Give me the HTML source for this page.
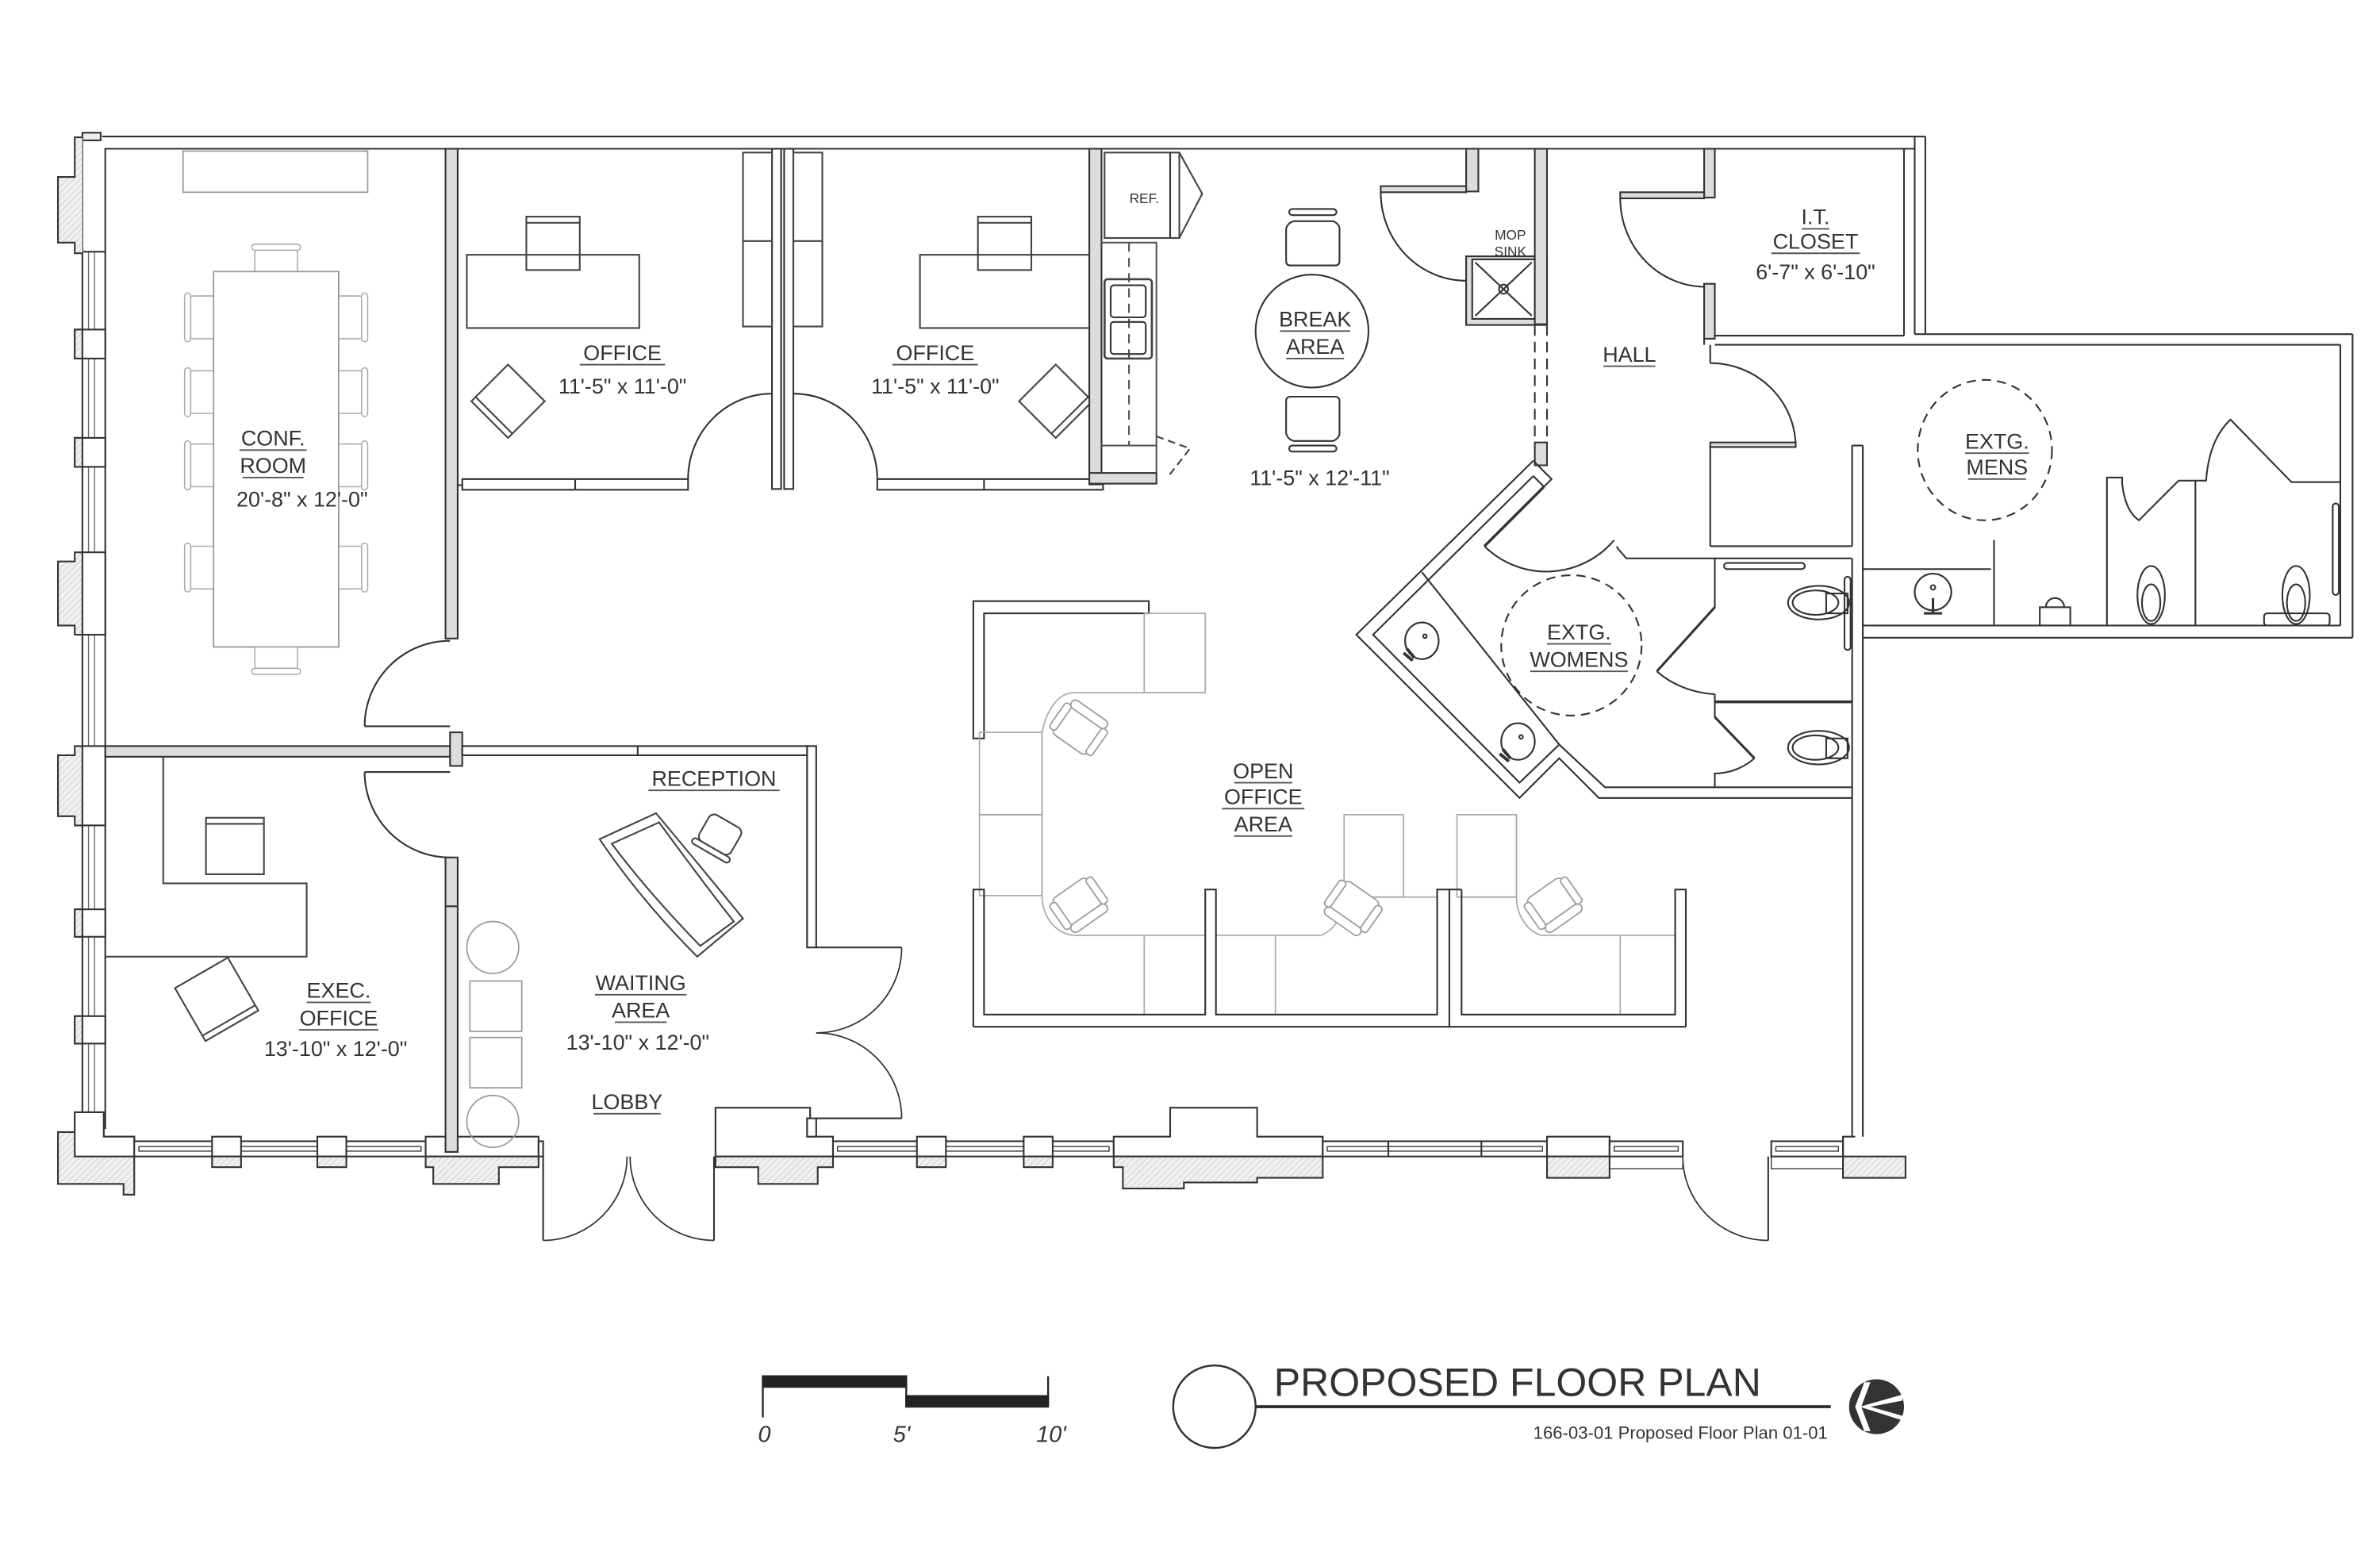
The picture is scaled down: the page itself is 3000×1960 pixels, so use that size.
<!DOCTYPE html>
<html><head><meta charset="utf-8"><style>
html,body{margin:0;padding:0;background:#fff;}
svg{display:block;}
text{font-family:"Liberation Sans",sans-serif;fill:#333;}
</style></head><body>
<svg width="3000" height="1960" viewBox="0 0 1560 1019.2" preserveAspectRatio="none" xmlns="http://www.w3.org/2000/svg">
<defs>
<pattern id="h" width="3" height="3" patternUnits="userSpaceOnUse" patternTransform="rotate(45)"><rect width="3" height="3" fill="#f0f0f0"/><line x1="0" y1="0" x2="0" y2="3" stroke="#c8c8c8" stroke-width="0.8"/></pattern>
<g id="ch" fill="#fff" stroke="#999" stroke-width="0.9">
<rect x="-14" y="-12" width="28" height="24" rx="4"/>
<rect x="-14" y="-15" width="28" height="6" rx="3"/>
<rect x="-17" y="-10" width="5" height="20" rx="2"/>
<rect x="12" y="-10" width="5" height="20" rx="2"/>
</g>
<g id="cc" fill="#fff" stroke="#aaa" stroke-width="0.8">
<rect x="-14" y="-10" width="28" height="20" rx="4"/>
<rect x="-16" y="-12" width="32" height="4" rx="2"/>
</g>
</defs>
<rect width="1560" height="1019.2" fill="#fff"/>

<g fill="none" stroke="#333" stroke-width="1.1">
<line x1="67" y1="89.5" x2="1262" y2="89.5"/>
<line x1="69" y1="97.5" x2="1255" y2="97.5"/>
<rect x="54" y="87" width="12" height="5" fill="#eee"/>
<line x1="54" y1="90" x2="54" y2="740"/>
<line x1="69" y1="97" x2="69" y2="740"/>
<line x1="58" y1="165" x2="58" y2="740" stroke="#666" stroke-width="0.7"/>
<line x1="62" y1="165" x2="62" y2="740" stroke="#666" stroke-width="0.7"/>
<line x1="54" y1="165" x2="69" y2="165"/>
<path d="M54,90 L49,90 L49,116 L38,116 L38,159 L49,159 L49,166 L54,166" fill="url(#h)"/>
<path d="M54,362 L49,362 L49,368 L38,368 L38,410 L49,410 L49,416 L54,416" fill="url(#h)"/>
<rect x="54" y="362" width="15" height="54" fill="#fff"/>
<path d="M54,489 L49,489 L49,495 L38,495 L38,535 L49,535 L49,541 L54,541" fill="url(#h)"/>
<rect x="54" y="489" width="15" height="52" fill="#fff"/>
<rect x="49" y="216" width="20" height="19" fill="#fff"/><rect x="49" y="216" width="5" height="19" fill="url(#h)"/>
<rect x="49" y="287" width="20" height="19" fill="#fff"/><rect x="49" y="287" width="5" height="19" fill="url(#h)"/>
<rect x="49" y="596" width="20" height="18" fill="#fff"/><rect x="49" y="596" width="5" height="18" fill="url(#h)"/>
<rect x="49" y="666" width="20" height="18" fill="#fff"/><rect x="49" y="666" width="5" height="18" fill="url(#h)"/>
<path d="M38,742 L49,742 L49,729 L68,729 L68,745 L88,745 L88,783 L81,783 L81,776 L38,776 Z" fill="url(#h)"/>
<path d="M49,729 L68,729 L68,745 L88,745 L88,758 L49,758 Z" fill="#fff"/>
<rect x="88" y="748" width="191" height="10" fill="#fff"/>
<rect x="91" y="751.5" width="185" height="3" stroke-width="0.7"/>
<rect x="139" y="745" width="19" height="13" fill="#fff"/><rect x="139" y="758" width="19" height="7" fill="url(#h)"/>
<rect x="208" y="745" width="19" height="13" fill="#fff"/><rect x="208" y="758" width="19" height="7" fill="url(#h)"/>
<rect x="279" y="745" width="74" height="13" fill="#fff"/>
<path d="M279,758 L353,758 L353,765 L327,765 L327,776 L284,776 L284,765 L279,765 Z" fill="url(#h)"/>
<rect x="353" y="748" width="3" height="10" fill="#fff"/>
<line x1="356" y1="758" x2="356" y2="813"/>
<line x1="468" y1="758" x2="468" y2="813"/>
<path d="M356,813 A55,55 0 0 0 411,758" stroke-width="0.9"/>
<path d="M468,813 A55,55 0 0 1 413,758" stroke-width="0.9"/>
<path d="M469,758 L469,726 L531,726 L531,745 L546,745 L546,758 Z" fill="#fff"/>
<path d="M469,758 L546,758 L546,765 L536,765 L536,776 L497,776 L497,765 L469,765 Z" fill="url(#h)"/>
<rect x="546" y="748" width="184" height="10" fill="#fff"/>
<rect x="549" y="751.5" width="178" height="3" stroke-width="0.7"/>
<rect x="601" y="745" width="19" height="13" fill="#fff"/><rect x="601" y="758" width="19" height="7" fill="url(#h)"/>
<rect x="671" y="745" width="19" height="13" fill="#fff"/><rect x="671" y="758" width="19" height="7" fill="url(#h)"/>
<path d="M730,758 L730,745 L767,745 L767,726 L824,726 L824,745 L867,745 L867,758 Z" fill="#fff"/>
<path d="M730,758 L867,758 L867,772 L824,772 L824,775 L776,775 L776,779 L736,779 L736,765 L730,765 Z" fill="url(#h)"/>
<rect x="867" y="748" width="147" height="10" fill="#fff"/>
<rect x="870" y="751.5" width="141" height="3" stroke-width="0.7"/>
<line x1="910" y1="748" x2="910" y2="758"/><line x1="971" y1="748" x2="971" y2="758"/>
<rect x="1014" y="745" width="41" height="13" fill="#fff"/><rect x="1014" y="758" width="41" height="14" fill="url(#h)"/>
<rect x="1055" y="748" width="48" height="10" fill="#fff"/>
<rect x="1058" y="751.5" width="42" height="3" stroke-width="0.7"/>
<rect x="1055" y="758" width="48" height="8" stroke-width="0.7"/>
<line x1="1159" y1="758" x2="1159" y2="813"/>
<path d="M1103,758 A56,55 0 0 0 1159,813" stroke-width="0.9"/>
<rect x="1161" y="748" width="47" height="10" fill="#fff"/>
<rect x="1164" y="751.5" width="41" height="3" stroke-width="0.7"/>
<rect x="1161" y="758" width="47" height="8" stroke-width="0.7"/>
<rect x="1208" y="758" width="41" height="14" fill="url(#h)"/>
<path d="M1208,758 L1208,745 L1216,745"/>

<g stroke="#999" stroke-width="0.9">
<rect x="120" y="99" width="121" height="27"/>
<rect x="140" y="178" width="82" height="246"/>
</g>
<g>
<use href="#cc" transform="translate(181,172)"/>
<use href="#cc" transform="translate(181,430) rotate(180)"/>
<use href="#cc" transform="translate(133,208) rotate(-90)"/>
<use href="#cc" transform="translate(133,257) rotate(-90)"/>
<use href="#cc" transform="translate(133,305) rotate(-90)"/>
<use href="#cc" transform="translate(133,372) rotate(-90)"/>
<use href="#cc" transform="translate(229,208) rotate(90)"/>
<use href="#cc" transform="translate(229,257) rotate(90)"/>
<use href="#cc" transform="translate(229,305) rotate(90)"/>
<use href="#cc" transform="translate(229,372) rotate(90)"/>
</g>
<rect x="140" y="178" width="82" height="246" fill="#fff" stroke="#999" stroke-width="0.9"/>

<rect x="292" y="97.5" width="8" height="321" fill="#ddd"/>
<line x1="300" y1="318" x2="303" y2="318"/>
<line x1="295" y1="476" x2="239" y2="476"/>
<path d="M239,476 A56,56 0 0 1 295,420"/>
<rect x="69" y="489" width="226" height="7" fill="#ddd"/>
<rect x="295" y="480" width="8" height="22" fill="#ddd"/>
<line x1="295" y1="506" x2="239" y2="506"/>
<path d="M239,506 A56,56 0 0 0 295,562"/>
<rect x="292" y="562" width="8" height="193" fill="#ddd"/>
<line x1="292" y1="594" x2="300" y2="594"/>
<rect x="303" y="489" width="227" height="6" fill="#fff"/>
<line x1="418" y1="489" x2="418" y2="495"/>
<rect x="529" y="489" width="6" height="132" fill="#fff"/>
<line x1="535" y1="621" x2="591" y2="621"/>
<path d="M591,621 A56,56 0 0 1 535,677" stroke-width="0.9"/>
<line x1="535" y1="733" x2="591" y2="733"/>
<path d="M591,733 A56,56 0 0 0 535,677" stroke-width="0.9"/>
<rect x="529" y="733" width="6" height="12" fill="#fff"/>

<path d="M107,496 L107,579 L201,579 L201,627 L69,627" stroke="#444"/>
<rect x="135" y="536" width="38" height="37" stroke="#444"/>
<line x1="135" y1="540" x2="173" y2="540" stroke="#444"/>
<g transform="translate(142,655) rotate(-30)"><rect x="-20" y="-20" width="40" height="40" stroke="#444"/><line x1="-20" y1="16" x2="20" y2="16" stroke="#444"/></g>
<g stroke="#999" stroke-width="0.9">
<circle cx="323" cy="621" r="17"/>
<rect x="308" y="643" width="34" height="33"/>
<rect x="308" y="680" width="34" height="33"/>
<circle cx="323" cy="735" r="17"/>
</g>
<path d="M393,550 L430,533 Q465,575 487,602 L457,627 Q420,590 393,550 Z" stroke="#444"/>
<path d="M401,553 L432,539 Q462,580 481,604 L459,620 Q425,585 401,553 Z" stroke="#444"/>
<g transform="translate(472,547) rotate(30)"><rect x="-12" y="-10" width="24" height="20" rx="4" stroke="#444"/><rect x="-14" y="10" width="28" height="4" rx="2" stroke="#444"/></g>

<rect x="303" y="314" width="148" height="7" fill="#fff"/>
<line x1="377" y1="314" x2="377" y2="321"/>
<line x1="506" y1="258" x2="506" y2="314"/>
<path d="M451,314 A55,56 0 0 1 506,258"/>
<rect x="506" y="97.5" width="6" height="223" fill="#fff"/>
<rect x="514" y="97.5" width="6" height="223" fill="#fff"/>
<path d="M575,314 A55,56 0 0 0 520,258"/>
<rect x="575" y="314" width="148" height="7" fill="#fff"/>
<line x1="645" y1="314" x2="645" y2="321"/>
<g stroke="#444">
<rect x="306" y="167" width="113" height="48"/>
<rect x="345" y="142" width="35" height="35"/><line x1="345" y1="146" x2="380" y2="146"/>
<rect x="487" y="100" width="19" height="114"/><line x1="487" y1="158" x2="506" y2="158"/>
<rect x="520" y="100" width="19" height="114"/><line x1="520" y1="158" x2="539" y2="158"/>
<rect x="603" y="167" width="113" height="48"/>
<rect x="641" y="142" width="35" height="35"/><line x1="641" y1="146" x2="676" y2="146"/>
<g transform="translate(333,263) rotate(45)"><rect x="-17" y="-17" width="34" height="34"/><line x1="-17" y1="13" x2="17" y2="13"/></g>
<g transform="translate(692,263) rotate(-45)"><rect x="-17" y="-17" width="34" height="34"/><line x1="-17" y1="13" x2="17" y2="13"/></g>
</g>
<rect x="714" y="97.5" width="8" height="220" fill="#ddd"/>
<rect x="714" y="310" width="44" height="7" fill="#ddd"/>
<path d="M722,159 L758,159 L758,310" stroke="#555"/>
<line x1="722" y1="292" x2="758" y2="292" stroke="#555"/>
<line x1="740" y1="159" x2="740" y2="292" stroke="#555" stroke-dasharray="6,4"/>
<rect x="724" y="100" width="49" height="56" stroke="#444"/>
<line x1="767" y1="100" x2="767" y2="156"/>
<path d="M773,100 L788,127 L773,156" stroke="#444"/>
<rect x="724" y="183" width="31" height="52" rx="2" stroke="#444" stroke-width="1.4"/>
<rect x="728" y="187" width="23" height="21" rx="2"/><rect x="728" y="211" width="23" height="21" rx="2"/>
<path d="M758,286 L780,294 L766,312" stroke="#444" stroke-dasharray="5,3"/>
<ellipse cx="860" cy="217" rx="37" ry="37"/>
<path d="M848,145 L874,145 Q878,147 878,150 L878,171 Q878,174 875,174 L846,174 Q843,174 843,171 L843,150 Q844,146 848,145 Z"/>
<rect x="845" y="137" width="31" height="4" rx="2"/>
<path d="M848,289 L874,289 Q878,287 878,284 L878,263 Q878,260 875,260 L846,260 Q843,260 843,263 L843,284 Q844,288 848,289 Z"/>
<rect x="845" y="292" width="31" height="4" rx="2"/>
<rect x="961" y="97.5" width="8" height="28" fill="#ddd"/>
<rect x="905" y="122" width="56" height="4" fill="#ddd"/>
<path d="M905,126 A56,58 0 0 0 961,184"/>
<rect x="961" y="168" width="53" height="45" fill="#ddd"/>
<rect x="965" y="170" width="41" height="39" fill="#fff"/>
<line x1="967" y1="172" x2="1004" y2="207"/><line x1="1004" y1="172" x2="967" y2="207"/>
<circle cx="985.5" cy="189.5" r="3"/>
<rect x="1006" y="97.5" width="8" height="115" fill="#ddd"/>
<line x1="1006" y1="213" x2="1006" y2="290" stroke-dasharray="7,4"/>
<line x1="1014" y1="213" x2="1014" y2="290" stroke-dasharray="7,4"/>
<rect x="1006" y="290" width="8" height="15" fill="#ddd"/>
<rect x="1117" y="97.5" width="7" height="32" fill="#ddd"/>
<rect x="1062" y="126" width="55" height="4" fill="#ddd"/>
<path d="M1062,130 A56,58 0 0 0 1118,188"/>
<rect x="1117" y="186" width="7" height="36" fill="#ddd"/>
<line x1="1248" y1="97.5" x2="1248" y2="220"/>
<line x1="1124" y1="220" x2="1248" y2="220"/>
<line x1="1255" y1="89.5" x2="1255" y2="219"/>
<line x1="1262" y1="89.5" x2="1262" y2="219"/>
<line x1="1255" y1="219" x2="1542" y2="219"/>
<line x1="1542" y1="219" x2="1542" y2="418"/>
<line x1="1124" y1="226" x2="1534" y2="226"/>
<line x1="1534" y1="226" x2="1534" y2="410"/>
<line x1="1221" y1="410" x2="1534" y2="410"/>
<line x1="1221" y1="418" x2="1542" y2="418"/>
<line x1="1117" y1="222" x2="1117" y2="226"/>
<line x1="1121" y1="226" x2="1121" y2="238"/>
<path d="M1121,238 A56,55 0 0 1 1177,292"/>
<rect x="1121" y="290" width="56" height="3" fill="#ddd"/>
<line x1="1121" y1="292" x2="1121" y2="358"/>
<line x1="1214" y1="292" x2="1214" y2="358"/>
<line x1="1221" y1="292" x2="1221" y2="418"/>
<line x1="1214" y1="292" x2="1221" y2="292"/>
<line x1="1121" y1="358" x2="1214" y2="358"/>
<path d="M1221,373 L1305,373"/>
<line x1="1307" y1="354" x2="1307" y2="410"/>
<circle cx="1267" cy="388" r="12"/><circle cx="1267" cy="385" r="1.5"/>
<path d="M1267,392 L1267,402 M1261,402 L1273,402" stroke-width="1.6"/>
<rect x="1337" y="398" width="20" height="12"/><path d="M1341,398 A6,6 0 0 1 1353,398"/>
<path d="M1381,410 L1381,313 L1391,313 L1391,317 Q1393,335 1402,341 L1428,315 L1439,315 L1439,410"/>
<path d="M1439,315 L1446,315 Q1448,288 1462,275 L1502,316 L1534,316"/>
<ellipse cx="1410" cy="390" rx="9" ry="19"/><ellipse cx="1410" cy="395" rx="6" ry="12"/>
<ellipse cx="1505" cy="390" rx="9" ry="19"/><ellipse cx="1505" cy="395" rx="6" ry="12"/>
<rect x="1484" y="402" width="43" height="8" rx="2"/>
<rect x="1529" y="330" width="4" height="60" rx="2"/>
<ellipse cx="1301" cy="295" rx="44" ry="46" stroke-dasharray="6,4"/>

<path d="M1060,358 L1060,359 L1066,366 L1214,366"/>
<path d="M1005,302 L889,416 L996,523 L1022,497 L1048,523 L1214,523"/>
<path d="M1005,302 L1017,314 L1012,319"/>
<path d="M1005,312 L900,416 L996,513 L1022,488 L1052,516 L1214,516"/>
<path d="M1005,312 L1012,319"/>
<line x1="932" y1="375" x2="1022" y2="488"/>
<line x1="1012" y1="319" x2="973" y2="358" stroke-width="1.8"/>
<path d="M973,358 A58,58 0 0 0 1058,354"/>
<ellipse cx="1030" cy="423" rx="46" ry="46" stroke-dasharray="6,4"/>
<ellipse cx="932" cy="420" rx="11" ry="12"/><circle cx="934" cy="417" r="1.2"/>
<path d="M922,425 L927,431 M920,428 L926,433" stroke-width="2"/>
<ellipse cx="995" cy="486" rx="11" ry="12"/><circle cx="997" cy="483" r="1.2"/>
<path d="M985,491 L990,497 M983,494 L989,499" stroke-width="2"/>
<path d="M1124,366 L1124,398 L1086,440"/>
<line x1="1124" y1="398" x2="1086" y2="440" stroke-width="1.6"/>
<path d="M1086,440 A58,50 0 0 0 1124,455"/>
<path d="M1124,455 L1124,470 L1150,497"/>
<line x1="1124" y1="470" x2="1150" y2="497" stroke-width="1.6"/>
<path d="M1150,497 A40,40 0 0 1 1124,507 L1124,516"/>
<line x1="1124" y1="460" x2="1214" y2="460" stroke-width="1.8"/>
<rect x="1130" y="369" width="53" height="4" rx="2"/>
<ellipse cx="1192" cy="395" rx="20" ry="11"/><ellipse cx="1190" cy="395" rx="15" ry="8"/><rect x="1197" y="389" width="14" height="13"/>
<ellipse cx="1192" cy="490" rx="20" ry="11"/><ellipse cx="1190" cy="490" rx="15" ry="8"/><rect x="1197" y="484" width="14" height="13"/>
<rect x="1209" y="378" width="4" height="48" rx="2"/>
<line x1="1214" y1="366" x2="1214" y2="745"/>
<line x1="1221" y1="418" x2="1221" y2="745"/>

<path d="M638,484 L638,394 L753,394 L753,402 L645,402 L645,484 Z" fill="#fff"/>
<g stroke="#aaa" stroke-width="0.9">
<rect x="750" y="402" width="40" height="52"/>
<path d="M704,454 L790,454"/>
<path d="M704,454 A22,40 0 0 0 683,480"/>
<rect x="642" y="480" width="41" height="54"/>
<rect x="642" y="534" width="41" height="53"/>
<line x1="683" y1="480" x2="683" y2="587"/>
<path d="M683,587 A22,26 0 0 0 704,613"/>
<line x1="704" y1="613" x2="790" y2="613"/>
<line x1="750" y1="613" x2="750" y2="665"/>
<line x1="797" y1="613" x2="866" y2="613"/>
<line x1="836" y1="613" x2="836" y2="665"/>
<path d="M866,613 A22,26 0 0 0 881,588"/>
<line x1="881" y1="588" x2="942" y2="588"/>
<rect x="881" y="534" width="39" height="54"/>
<rect x="955" y="534" width="39" height="54"/>
<line x1="958" y1="588" x2="994" y2="588"/>
<path d="M994,588 A22,26 0 0 0 1010,613"/>
<line x1="1010" y1="613" x2="1098" y2="613"/>
<line x1="1062" y1="613" x2="1062" y2="665"/>
</g>
<use href="#ch" transform="translate(707,478) rotate(35)"/>
<use href="#ch" transform="translate(707,592) rotate(145)"/>
<use href="#ch" transform="translate(887,594) rotate(-145)"/>
<use href="#ch" transform="translate(1018,592) rotate(145)"/>
<path d="M638,673 L638,583 L645,583 L645,665 L790,665 L790,583 L797,583 L797,665 L942,665 L942,583 L950,583 L950,673"/>
<path d="M958,583 L958,665 L1098,665 L1098,583 L1105,583 L1105,673"/>
<line x1="638" y1="673" x2="1105" y2="673"/>
<line x1="950" y1="583" x2="958" y2="583"/>
</g>

<g font-size="14" text-anchor="middle">
<text x="179" y="292">CONF.</text><text x="179" y="310">ROOM</text>
<text x="198" y="332">20'-8" x 12'-0"</text>
<text x="408" y="236">OFFICE</text><text x="408" y="258">11'-5" x 11'-0"</text>
<text x="613" y="236">OFFICE</text><text x="613" y="258">11'-5" x 11'-0"</text>
<text x="862" y="214">BREAK</text><text x="862" y="232">AREA</text>
<text x="865" y="318">11'-5" x 12'-11"</text>
<text x="1190" y="147">I.T.</text><text x="1190" y="163">CLOSET</text>
<text x="1190" y="183">6'-7" x 6'-10"</text>
<text x="1068" y="237">HALL</text>
<text x="1309" y="294">EXTG.</text><text x="1309" y="311">MENS</text>
<text x="1035" y="419">EXTG.</text><text x="1035" y="437">WOMENS</text>
<text x="828" y="510">OPEN</text><text x="828" y="527">OFFICE</text><text x="828" y="545">AREA</text>
<text x="468" y="515">RECEPTION</text>
<text x="420" y="649">WAITING</text><text x="420" y="667">AREA</text>
<text x="418" y="688">13'-10" x 12'-0"</text>
<text x="411" y="727">LOBBY</text>
<text x="222" y="654">EXEC.</text><text x="222" y="672">OFFICE</text>
<text x="220" y="692">13'-10" x 12'-0"</text>
</g>
<g font-size="9" text-anchor="middle">
<text x="750" y="133">REF.</text>
<text x="990" y="157">MOP</text><text x="990" y="168">SINK</text>
</g>
<g stroke="#555" stroke-width="1">
<line x1="157" y1="295" x2="201" y2="295"/><line x1="159" y1="313" x2="199" y2="313"/>
<line x1="380" y1="239" x2="436" y2="239"/><line x1="585" y1="239" x2="641" y2="239"/>
<line x1="839" y1="217" x2="885" y2="217"/><line x1="843" y1="235" x2="881" y2="235"/>
<line x1="1181" y1="150" x2="1199" y2="150"/><line x1="1161" y1="166" x2="1219" y2="166"/>
<line x1="1051" y1="240" x2="1085" y2="240"/>
<line x1="1288" y1="297" x2="1330" y2="297"/><line x1="1290" y1="314" x2="1328" y2="314"/>
<line x1="1014" y1="422" x2="1056" y2="422"/><line x1="1003" y1="440" x2="1067" y2="440"/>
<line x1="809" y1="513" x2="847" y2="513"/><line x1="801" y1="530" x2="855" y2="530"/><line x1="809" y1="548" x2="847" y2="548"/>
<line x1="425" y1="518" x2="511" y2="518"/>
<line x1="390" y1="652" x2="450" y2="652"/><line x1="403" y1="670" x2="437" y2="670"/>
<line x1="389" y1="730" x2="433" y2="730"/>
<line x1="201" y1="657" x2="243" y2="657"/><line x1="196" y1="675" x2="248" y2="675"/>
</g>

<g stroke="#222" stroke-width="1.2">
<rect x="500" y="902" width="94" height="7" fill="#222"/>
<rect x="594" y="915" width="93" height="7" fill="#222"/>
<line x1="500" y1="902" x2="500" y2="929"/>
<line x1="687" y1="902" x2="687" y2="922"/>
<line x1="594" y1="902" x2="594" y2="922"/>
</g>
<g font-size="15" font-style="italic" fill="#444" text-anchor="middle">
<text x="501" y="945">0</text><text x="591" y="945">5'</text><text x="689" y="945">10'</text>
</g>
<circle cx="796" cy="922" r="27" fill="none" stroke="#333" stroke-width="1.3"/>
<line x1="823" y1="922" x2="1200" y2="922" stroke="#333" stroke-width="2"/>
<text x="835" y="915" font-size="26" fill="#222">PROPOSED FLOOR PLAN</text>
<text x="1198" y="943" font-size="11.5" text-anchor="end" fill="#333">166-03-01 Proposed Floor Plan 01-01</text>
<circle cx="1230" cy="922" r="18" fill="#333"/>
<path d="M1222,906 L1216,922 L1222,938 L1226,938 L1220,922 L1226,906 Z" fill="#fff"/>
<path d="M1219,922 L1247,914 L1247,918 L1226,922 L1247,928 L1247,931 Z" fill="#fff"/>
</svg>
</body></html>
